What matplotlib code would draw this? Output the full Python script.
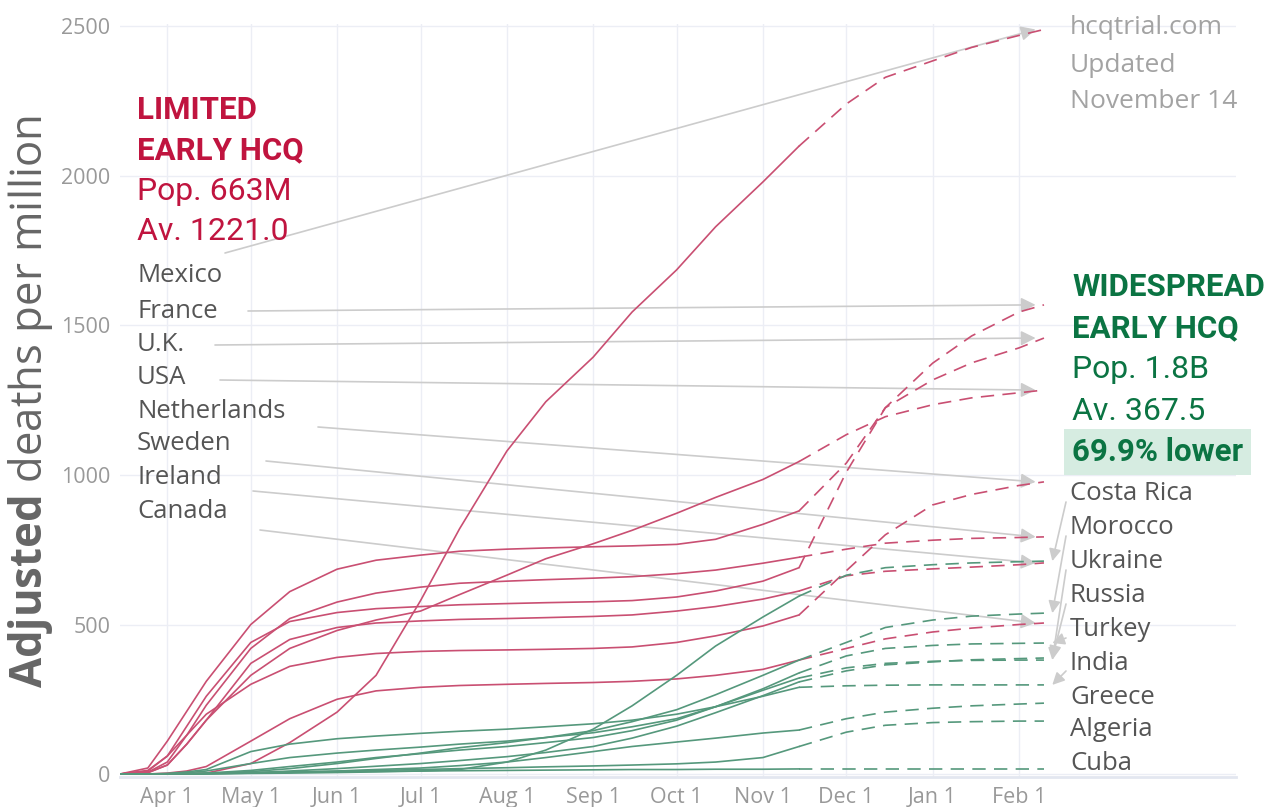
import matplotlib
matplotlib.use('Agg')
import matplotlib.pyplot as plt
import pandas as pd

plt.rcParams['font.family'] = ['Open Sans', 'DejaVu Sans']
plt.rcParams['mathtext.fontset'] = 'custom'
plt.rcParams['mathtext.rm'] = 'Open Sans'
plt.rcParams['mathtext.bf'] = 'Open Sans:bold'

# observed (solid) and projected (dashed) adjusted deaths per million
dates_obs = pd.to_datetime(['2020-03-15', '2020-03-25', '2020-04-01', '2020-04-08', '2020-04-15',
                            '2020-05-01', '2020-05-15', '2020-06-01', '2020-06-15', '2020-07-01',
                            '2020-07-15', '2020-08-01', '2020-08-15', '2020-09-01', '2020-09-15',
                            '2020-10-01', '2020-10-15', '2020-11-01', '2020-11-14'])
dates_proj = pd.to_datetime(['2020-11-14', '2020-12-01', '2020-12-15', '2021-01-01',
                             '2021-01-15', '2021-02-01', '2021-02-10'])

# limited early HCQ
mexico_obs = [0, 0, 0, 1, 3, 35, 105, 207, 330, 580, 820, 1080, 1245, 1394, 1545, 1686, 1830, 1980, 2100]
mexico_proj = [2100, 2241, 2330, 2385, 2430, 2470, 2490]
france_obs = [0, 20, 110, 210, 310, 500, 610, 685, 715, 732, 745, 752, 756, 760, 763, 768, 785, 835, 880]
france_proj = [880, 1040, 1225, 1374, 1465, 1545, 1569]
uk_obs = [0, 10, 60, 160, 260, 440, 510, 540, 553, 560, 566, 570, 573, 576, 580, 592, 612, 645, 690]
uk_proj = [690, 1010, 1225, 1318, 1375, 1425, 1458]
usa_obs = [0, 5, 30, 100, 180, 330, 420, 480, 515, 545, 600, 665, 720, 770, 815, 872, 925, 985, 1045]
usa_proj = [1045, 1135, 1195, 1235, 1258, 1275, 1284]
netherlands_obs = [0, 12, 60, 130, 200, 300, 360, 390, 403, 410, 413, 415, 417, 420, 425, 440, 462, 495,
                   532]
netherlands_proj = [532, 680, 800, 900, 935, 965, 977]
sweden_obs = [0, 6, 40, 130, 230, 420, 520, 575, 605, 625, 638, 645, 650, 655, 660, 670, 682, 705, 725]
sweden_proj = [725, 752, 772, 782, 788, 791, 793]
ireland_obs = [0, 4, 30, 100, 180, 370, 450, 490, 505, 512, 517, 520, 523, 527, 532, 545, 560, 585, 612]
ireland_proj = [612, 663, 678, 686, 692, 700, 706]
canada_obs = [0, 0, 3, 10, 25, 110, 185, 250, 278, 290, 296, 300, 303, 306, 310, 318, 330, 350, 381]
canada_proj = [381, 420, 452, 475, 488, 500, 505]

# widespread early HCQ
costa_rica_obs = [0, 0, 0, 0, 1, 2, 3, 5, 7, 10, 15, 40, 80, 150, 228, 330, 428, 525, 595]
costa_rica_proj = [595, 665, 690, 700, 706, 710, 712]
morocco_obs = [0, 0, 0, 1, 2, 8, 18, 35, 52, 70, 88, 105, 122, 145, 175, 215, 265, 330, 381]
morocco_proj = [381, 440, 490, 515, 528, 535, 538]
ukraine_obs = [0, 0, 0, 1, 3, 12, 25, 40, 55, 68, 80, 92, 105, 122, 145, 180, 225, 280, 321]
ukraine_proj = [321, 355, 370, 377, 380, 381, 381]
russia_obs = [0, 0, 0, 0, 1, 4, 10, 18, 26, 35, 45, 58, 72, 92, 120, 160, 205, 262, 308]
russia_proj = [308, 345, 365, 375, 382, 386, 388]
turkey_obs = [0, 0, 0, 4, 10, 35, 55, 70, 80, 90, 100, 110, 122, 138, 158, 185, 225, 285, 338]
turkey_proj = [338, 395, 420, 430, 435, 437, 438]
india_obs = [0, 0, 2, 7, 15, 75, 100, 118, 127, 136, 143, 150, 158, 168, 180, 200, 225, 260, 290]
india_proj = [290, 295, 297, 298, 298, 298, 298]
greece_obs = [0, 0, 0, 0, 1, 3, 6, 10, 15, 20, 28, 40, 55, 75, 92, 107, 120, 137, 147]
greece_proj = [147, 185, 207, 220, 228, 234, 237]
algeria_obs = [0, 0, 0, 0, 1, 3, 6, 9, 12, 15, 18, 21, 24, 27, 30, 34, 40, 55, 92]
algeria_proj = [92, 140, 163, 172, 175, 177, 177]
cuba_obs = [0, 0, 0, 1, 2, 5, 7, 8, 9, 10, 11, 12, 13, 14, 15, 15, 16, 16, 17]
cuba_proj = [17, 17, 17, 17, 17, 17, 17]

red_names = ['Mexico', 'France', 'U.K.', 'USA', 'Netherlands', 'Sweden', 'Ireland', 'Canada']
red_obs = [mexico_obs, france_obs, uk_obs, usa_obs, netherlands_obs, sweden_obs, ireland_obs, canada_obs]
red_proj = [mexico_proj, france_proj, uk_proj, usa_proj, netherlands_proj, sweden_proj, ireland_proj,
            canada_proj]
green_names = ['Costa Rica', 'Morocco', 'Ukraine', 'Russia', 'Turkey', 'India', 'Greece', 'Algeria', 'Cuba']
green_obs = [costa_rica_obs, morocco_obs, ukraine_obs, russia_obs, turkey_obs, india_obs, greece_obs,
             algeria_obs, cuba_obs]
green_proj = [costa_rica_proj, morocco_proj, ukraine_proj, russia_proj, turkey_proj, india_proj,
              greece_proj, algeria_proj, cuba_proj]

RED = '#c94f72'
GREEN = '#55987c'
RED_TXT = '#c0143f'
GREEN_TXT = '#0b7443'
ARROW = '#cccccc'

W, H = 1265, 807
fig = plt.figure(figsize=(W / 100, H / 100), dpi=100)
ax = fig.add_axes([120 / W, 30 / H, 1116 / W, 753.5 / H])


def fx(px):
    return (px - 120) / 1116


def fy(py):
    return (777 - py) / 753.5


for obs, proj in zip(red_obs, red_proj):
    ax.plot(dates_obs, obs, color=RED, lw=1.2, zorder=3)
    ax.plot(dates_proj, proj, color=RED, lw=1.2, dashes=(8, 5), zorder=3)
for obs, proj in zip(green_obs, green_proj):
    ax.plot(dates_obs, obs, color=GREEN, lw=1.2, zorder=3)
    ax.plot(dates_proj, proj, color=GREEN, lw=1.2, dashes=(8, 5), zorder=3)

ax.set_xlim(pd.Timestamp('2020-03-15'), pd.Timestamp('2021-04-20'))
ax.set_ylim(-10, 2510)
ticks = pd.date_range('2020-04-01', '2021-02-01', freq='MS')
ax.set_xticks(ticks)
ax.set_xticklabels([t.strftime('%b') + ' 1' for t in ticks])
ax.set_yticks([0, 500, 1000, 1500, 2000, 2500])
ax.tick_params(length=0, labelsize=15.5, labelcolor='#999999', pad=7)
ax.grid(color='#eceef5', lw=1)
ax.set_axisbelow(True)
for side in ['top', 'right', 'left']:
    ax.spines[side].set_visible(False)
ax.spines['bottom'].set_color('#e3e7f0')
ax.spines['bottom'].set_linewidth(2)

fig.text(31 / W, 1 - 402 / H, r'$\mathbf{Adjusted}$ deaths per million', rotation=90,
         ha='center', va='center', fontsize=31.5, color='#666666')

# left block
ax.text(fx(137), fy(110), 'LIMITED', transform=ax.transAxes, family='Roboto', weight='bold',
        fontsize=22.5, color=RED_TXT, va='center')
ax.text(fx(137), fy(150), 'EARLY HCQ', transform=ax.transAxes, family='Roboto', weight='bold',
        fontsize=22.5, color=RED_TXT, va='center')
ax.text(fx(137), fy(192), 'Pop. 663M', transform=ax.transAxes, family='Roboto',
        fontsize=23, color=RED_TXT, va='center')
ax.text(fx(137), fy(232), 'Av. 1221.0', transform=ax.transAxes, family='Roboto',
        fontsize=23, color=RED_TXT, va='center')

red_label_y = [276, 311, 345, 378, 411, 444, 478, 512]
red_arrow_start = [(225, 253), (248, 311), (215, 345), (220, 380), (318, 427), (266, 461), (253, 491),
                   (260, 530)]
for name, proj, ly, (sx, sy) in zip(red_names, red_proj, red_label_y, red_arrow_start):
    ax.text(fx(137), fy(ly), name, transform=ax.transAxes, fontsize=18.5, color='#555555', va='center')
    ax.annotate('', xy=(dates_proj[-1] - pd.Timedelta(days=3), proj[-1]), xycoords='data',
                xytext=(fx(sx), fy(sy)), textcoords='axes fraction',
                arrowprops=dict(arrowstyle='-|>', color=ARROW, lw=1.2, mutation_scale=22,
                                shrinkA=0, shrinkB=0), zorder=2)

# right block
for txt, yy in zip(['hcqtrial.com', 'Updated', 'November 14'], [28, 65, 101]):
    ax.text(fx(1070), fy(yy), txt, transform=ax.transAxes, fontsize=19, color='#a3a3a3', va='center')
ax.text(fx(1072), fy(287), 'WIDESPREAD', transform=ax.transAxes, family='Roboto', weight='bold',
        fontsize=22.5, color=GREEN_TXT, va='center')
ax.text(fx(1072), fy(328), 'EARLY HCQ', transform=ax.transAxes, family='Roboto', weight='bold',
        fontsize=22.5, color=GREEN_TXT, va='center')
ax.text(fx(1072), fy(370), 'Pop. 1.8B', transform=ax.transAxes, family='Roboto',
        fontsize=23, color=GREEN_TXT, va='center')
ax.text(fx(1072), fy(411), 'Av. 367.5', transform=ax.transAxes, family='Roboto',
        fontsize=23, color=GREEN_TXT, va='center')
ax.text(fx(1072), fy(452), '69.9% lower', transform=ax.transAxes, family='Roboto', weight='bold',
        fontsize=22.5, color=GREEN_TXT, va='center',
        bbox=dict(boxstyle='square,pad=0.25', facecolor='#d6ece1', edgecolor='none'))

green_label_y = [494, 528, 562, 596, 630, 663, 697, 730, 764]
for name, proj, ly in zip(green_names, green_proj, green_label_y):
    ax.text(fx(1070), fy(ly), name, transform=ax.transAxes, fontsize=18.5, color='#555555', va='center')
    end_py = 774 - proj[-1] * 0.299
    if abs(end_py - ly) > 12:
        ax.annotate('', xy=(dates_proj[-1] + pd.Timedelta(days=3), proj[-1]), xycoords='data',
                    xytext=(fx(1066), fy(ly + 8)), textcoords='axes fraction',
                    arrowprops=dict(arrowstyle='-|>', color=ARROW, lw=1.2, mutation_scale=18,
                                    shrinkA=0, shrinkB=0), zorder=2)

fig.savefig('out.png', dpi=100)
